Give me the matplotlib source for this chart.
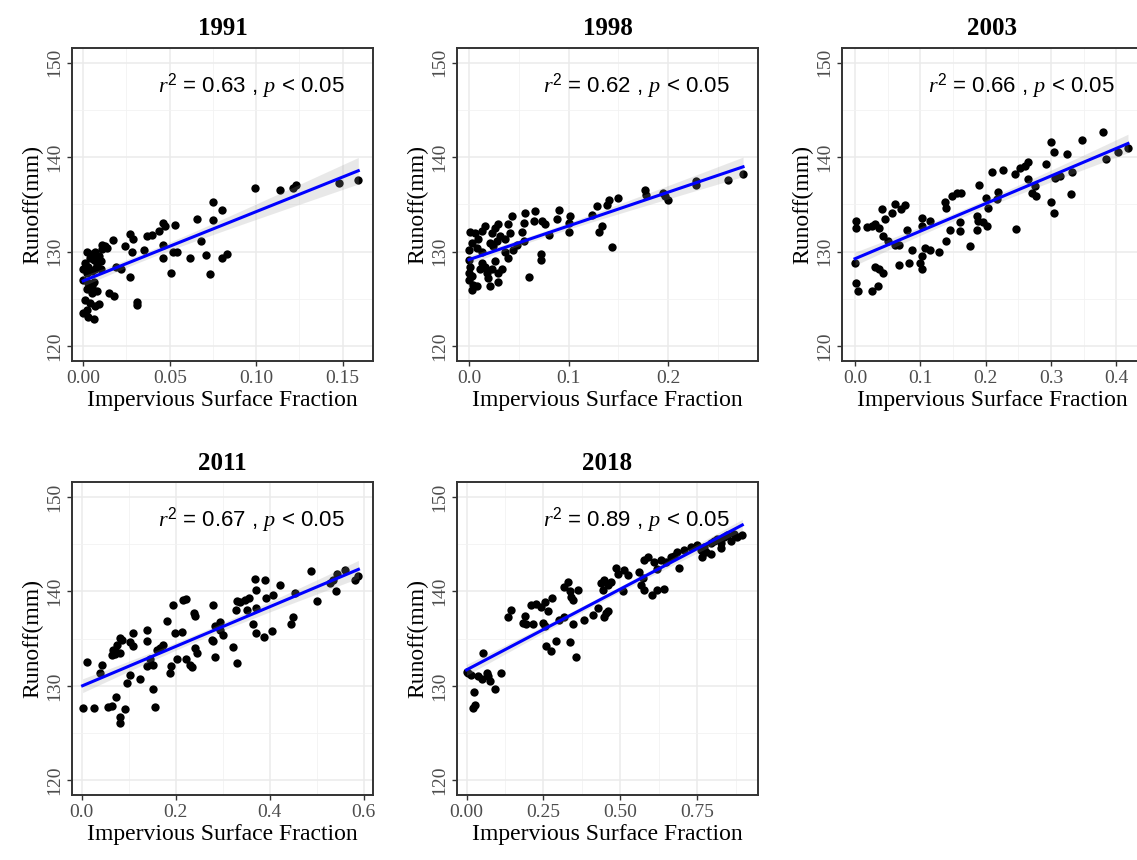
import numpy as np
import matplotlib
matplotlib.use("Agg")
import matplotlib.pyplot as plt
from matplotlib.ticker import FixedLocator

plt.rcParams['font.family'] = ['Liberation Serif', 'DejaVu Serif']
plt.rcParams['mathtext.fontset'] = 'custom'
plt.rcParams['mathtext.rm'] = 'Liberation Sans'
plt.rcParams['mathtext.it'] = 'Liberation Serif:italic'

# ---- data ----
years = ['1991', '1998', '2003', '2011', '2018']
r2_text = ['0.63', '0.62', '0.66', '0.67', '0.89']

x91 = [0.099, 0.114, 0.121, 0.123, 0.148, 0.159, 0.075, 0.080, 0.066, 0.075,
       0.046, 0.053, 0.047, 0.040, 0.044, 0.037, 0.027, 0.029, 0.017, 0.0125,
       0.011, 0.024, 0.028, 0.035, 0.046, 0.052, 0.054, 0.068, 0.062, 0.071,
       0.080, 0.083, 0.046, 0.051, 0.073, 0.027, 0.022, 0.019, 0.031, 0.031,
       0.015, 0.018, 0.002, 0.005, 0.007, 0.004, 0.006, 0.009, 0.001, 0.003,
       0.008, 0.010, 0.000, 0.002, 0.005, 0.007, 0.010, 0.000, 0.003, 0.006,
       0.002, 0.005, 0.008, 0.001, 0.004, 0.007, 0.000, 0.003, 0.006, 0.002,
       0.009, 0.005, 0.0135, 0.0106]
y91 = [136.7, 136.5, 136.7, 137.0, 137.3, 137.6, 135.2, 134.4, 133.5, 133.3,
       133.0, 132.8, 132.7, 131.7, 132.2, 131.6, 131.9, 131.3, 131.2, 130.6,
       130.3, 130.6, 130.0, 130.2, 130.7, 130.0, 130.0, 131.1, 129.3, 129.6,
       129.3, 129.7, 129.3, 127.7, 127.6, 127.3, 128.1, 128.4, 124.7, 124.3,
       125.6, 125.3, 129.9, 129.7, 129.9, 129.3, 129.1, 129.5, 128.8, 128.4,
       128.6, 129.0, 128.1, 127.7, 127.9, 128.1, 128.1, 127.0, 126.7, 126.8,
       126.0, 125.6, 125.8, 124.9, 124.5, 124.2, 123.5, 123.1, 122.9, 123.8,
       124.4, 126.3, 130.4, 130.7]

x98 = [0.275, 0.260, 0.228, 0.228, 0.200, 0.197, 0.195, 0.177, 0.178, 0.150,
       0.141, 0.138, 0.128, 0.123, 0.133, 0.130, 0.144, 0.101, 0.100, 0.100,
       0.090, 0.088, 0.076, 0.080, 0.073, 0.066, 0.065, 0.056, 0.055, 0.053,
       0.055, 0.072, 0.072, 0.060, 0.043, 0.039, 0.041, 0.036, 0.029, 0.026,
       0.023, 0.031, 0.028, 0.021, 0.024, 0.016, 0.013, 0.009, 0.006, 0.001,
       0.003, 0.008, 0.000, 0.013, 0.036, 0.039, 0.026, 0.033, 0.029, 0.023,
       0.029, 0.021, 0.000, 0.001, 0.000, 0.003, 0.000, 0.004, 0.003, 0.008,
       0.011, 0.013, 0.016, 0.018, 0.019, 0.044, 0.048]
y98 = [138.2, 137.6, 137.5, 137.0, 135.5, 135.9, 136.2, 136.5, 136.0, 135.7,
       135.5, 134.9, 134.8, 133.9, 132.7, 132.1, 130.5, 133.8, 133.0, 132.1,
       134.4, 133.4, 132.9, 131.8, 133.2, 134.3, 133.2, 134.1, 133.0, 132.1,
       131.1, 129.7, 129.1, 127.3, 133.8, 132.9, 132.0, 131.3, 132.9, 132.5,
       132.0, 131.6, 131.1, 130.9, 130.6, 132.7, 132.2, 131.3, 132.0, 132.1,
       130.9, 130.4, 130.2, 129.9, 129.9, 129.3, 129.0, 128.1, 127.7, 128.1,
       126.8, 126.3, 129.1, 128.4, 127.7, 127.4, 127.0, 126.5, 125.9, 126.3,
       128.1, 128.8, 128.4, 127.7, 127.2, 130.2, 130.7]

x03 = [0.380, 0.348, 0.300, 0.305, 0.324, 0.293, 0.306, 0.314, 0.332, 0.385,
       0.403, 0.418, 0.331, 0.300, 0.305, 0.265, 0.260, 0.253, 0.245, 0.265,
       0.276, 0.277, 0.271, 0.226, 0.210, 0.219, 0.217, 0.204, 0.200, 0.190,
       0.186, 0.189, 0.196, 0.202, 0.186, 0.247, 0.176, 0.163, 0.156, 0.148,
       0.138, 0.140, 0.161, 0.161, 0.145, 0.140, 0.115, 0.102, 0.102, 0.128,
       0.115, 0.107, 0.102, 0.099, 0.102, 0.087, 0.082, 0.067, 0.079, 0.067,
       0.077, 0.071, 0.061, 0.056, 0.041, 0.046, 0.036, 0.031, 0.026, 0.043,
       0.018, 0.001, 0.001, 0.051, 0.061, 0.000, 0.031, 0.036, 0.043, 0.001,
       0.005, 0.026, 0.035]
y03 = [142.7, 141.8, 141.6, 140.5, 140.3, 139.3, 137.8, 138.0, 138.4, 139.8,
       140.6, 141.0, 136.1, 135.2, 134.1, 139.5, 139.1, 138.8, 138.2, 137.7,
       136.9, 135.9, 136.2, 138.6, 138.4, 136.3, 135.6, 134.6, 135.7, 137.0,
       133.8, 133.2, 133.1, 132.7, 132.3, 132.4, 130.6, 136.2, 136.2, 135.9,
       135.2, 134.6, 133.1, 132.2, 132.3, 131.1, 133.2, 133.6, 132.7, 130.0,
       130.2, 130.4, 129.5, 128.8, 128.1, 130.2, 128.8, 128.6, 132.3, 130.7,
       134.9, 134.5, 135.0, 134.1, 134.5, 133.4, 132.5, 132.9, 132.7, 131.6,
       132.6, 133.2, 132.5, 131.1, 130.7, 128.8, 128.4, 128.1, 127.7, 126.7,
       125.8, 125.8, 126.3]

x11 = [0.489, 0.543, 0.560, 0.535, 0.528, 0.582, 0.589, 0.541, 0.500, 0.423,
       0.390, 0.369, 0.372, 0.392, 0.408, 0.454, 0.450, 0.445, 0.372, 0.365,
       0.371, 0.387, 0.404, 0.356, 0.348, 0.337, 0.330, 0.351, 0.328, 0.280,
       0.238, 0.241, 0.195, 0.216, 0.222, 0.181, 0.199, 0.213, 0.294, 0.294,
       0.301, 0.284, 0.277, 0.280, 0.284, 0.321, 0.331, 0.241, 0.245, 0.223,
       0.230, 0.234, 0.202, 0.191, 0.188, 0.174, 0.167, 0.160, 0.145, 0.138,
       0.152, 0.140, 0.140, 0.109, 0.103, 0.110, 0.082, 0.085, 0.076, 0.067,
       0.074, 0.064, 0.071, 0.082, 0.011, 0.043, 0.038, 0.124, 0.103, 0.096,
       0.152, 0.156, 0.002, 0.027, 0.057, 0.064, 0.074, 0.092, 0.082, 0.082]
y11 = [142.2, 141.9, 142.3, 141.2, 140.9, 141.2, 141.6, 140.0, 139.0, 140.7,
       141.2, 141.3, 140.2, 139.3, 139.6, 139.8, 137.3, 136.5, 138.2, 136.6,
       135.6, 135.2, 135.8, 139.3, 139.1, 138.9, 139.0, 138.0, 138.0, 138.6,
       137.7, 137.4, 138.6, 139.1, 139.2, 136.9, 135.6, 135.7, 136.8, 135.9,
       135.4, 136.3, 134.9, 134.7, 133.1, 134.1, 132.4, 134.0, 133.5, 132.8,
       132.2, 132.0, 132.8, 132.1, 131.4, 134.3, 134.0, 133.8, 132.8, 132.1,
       132.2, 135.9, 134.8, 135.6, 134.6, 134.2, 135.1, 134.9, 134.3, 133.8,
       133.6, 133.3, 133.4, 133.5, 132.5, 132.2, 131.4, 130.7, 131.2, 130.3,
       129.7, 127.8, 127.6, 127.6, 127.8, 127.9, 128.8, 127.5, 126.7, 126.1]

x18 = [0.005, 0.016, 0.000, 0.054, 0.038, 0.049, 0.065, 0.070, 0.076, 0.092,
       0.113, 0.025, 0.027, 0.022, 0.135, 0.146, 0.189, 0.194, 0.216, 0.183,
       0.210, 0.227, 0.243, 0.254, 0.278, 0.248, 0.264, 0.254, 0.259, 0.275,
       0.291, 0.302, 0.318, 0.329, 0.318, 0.335, 0.340, 0.361, 0.345, 0.335,
       0.356, 0.345, 0.383, 0.410, 0.426, 0.453, 0.448, 0.459, 0.437, 0.443,
       0.448, 0.459, 0.469, 0.486, 0.491, 0.513, 0.523, 0.507, 0.561, 0.572,
       0.567, 0.577, 0.604, 0.620, 0.642, 0.577, 0.588, 0.610, 0.620, 0.631,
       0.647, 0.664, 0.674, 0.685, 0.691, 0.707, 0.729, 0.750, 0.761, 0.772,
       0.777, 0.793, 0.804, 0.815, 0.826, 0.836, 0.847, 0.858, 0.869, 0.880,
       0.896, 0.766, 0.793, 0.826]
y18 = [131.4, 131.2, 131.5, 133.5, 131.0, 130.7, 131.4, 131.0, 130.5, 129.7,
       131.4, 129.3, 128.0, 127.6, 137.3, 138.0, 137.4, 136.6, 136.5, 136.7,
       138.6, 138.7, 138.4, 138.9, 139.3, 136.7, 137.9, 136.3, 134.2, 133.7,
       134.8, 137.0, 137.3, 141.0, 140.5, 140.0, 139.4, 140.2, 139.1, 134.6,
       133.1, 136.6, 137.0, 137.5, 138.2, 137.7, 137.3, 137.9, 140.9, 140.2,
       141.2, 140.7, 141.0, 142.5, 141.9, 142.3, 141.7, 140.0, 142.1, 141.4,
       140.7, 140.2, 139.6, 140.2, 140.3, 143.3, 143.6, 143.1, 142.4, 143.3,
       143.1, 143.6, 143.8, 144.2, 142.5, 144.4, 144.7, 144.9, 144.4, 144.7,
       144.2, 145.1, 145.4, 145.6, 145.1, 145.8, 146.0, 145.4, 146.1, 145.8,
       146.0, 143.7, 144.0, 144.6]

xs = [x91, x98, x03, x11, x18]
ys = [y91, y98, y03, y11, y18]

# x axis setup per panel
x_ticks = [[0, 0.05, 0.10, 0.15], [0, 0.1, 0.2], [0, 0.1, 0.2, 0.3, 0.4],
           [0, 0.2, 0.4, 0.6], [0, 0.25, 0.5, 0.75]]
x_ticklabels = [['0.00', '0.05', '0.10', '0.15'], ['0.0', '0.1', '0.2'],
                ['0.0', '0.1', '0.2', '0.3', '0.4'], ['0.0', '0.2', '0.4', '0.6'],
                ['0.00', '0.25', '0.50', '0.75']]
x_minor = [[0.025, 0.075, 0.125], [0.05, 0.15, 0.25], [0.05, 0.15, 0.25, 0.35],
           [0.1, 0.3, 0.5], [0.125, 0.375, 0.625, 0.875]]
x_lims = [(-0.0065, 0.1675), (-0.012, 0.29), (-0.02, 0.441), (-0.0206, 0.62), (-0.031, 0.947)]

y_ticks = [120, 130, 140, 150]
y_minor = [125, 135, 145]

# panel positions in pixels (left, top) on a 1137x860 canvas
W, H = 1137, 860
pos_px = [(72, 47.7), (457, 47.7), (842, 47.7), (72, 482), (457, 482)]
pw, ph = 301, 313.3

fig = plt.figure(figsize=(W / 100, H / 100), dpi=100)

for i in range(5):
    l, t = pos_px[i]
    ax = fig.add_axes([l / W, (H - t - ph) / H, pw / W, ph / H])
    x = np.array(xs[i])
    y = np.array(ys[i])

    ax.scatter(x, y, s=36, color='black', zorder=3, linewidths=0)

    # linear fit with confidence band
    b, a = np.polyfit(x, y, 1)
    xx = np.linspace(x.min(), x.max(), 100)
    yy = a + b * xx
    n = len(x)
    resid = y - (a + b * x)
    s = np.sqrt(np.sum(resid ** 2) / (n - 2))
    se = s * np.sqrt(1 / n + (xx - x.mean()) ** 2 / np.sum((x - x.mean()) ** 2))
    ax.fill_between(xx, yy - 1.5 * se, yy + 1.5 * se, color='#999999', alpha=0.22,
                    linewidth=0, zorder=4)
    ax.plot(xx, yy, color='#0000FF', linewidth=2.2, zorder=5)

    ax.set_xlim(*x_lims[i])
    ax.set_ylim(118.4, 151.6)
    ax.xaxis.set_major_locator(FixedLocator(x_ticks[i]))
    ax.set_xticklabels(x_ticklabels[i])
    ax.xaxis.set_minor_locator(FixedLocator(x_minor[i]))
    ax.yaxis.set_major_locator(FixedLocator(y_ticks))
    ax.set_yticklabels([str(v) for v in y_ticks], rotation=90, va='center')
    ax.yaxis.set_minor_locator(FixedLocator(y_minor))

    ax.grid(which='major', color='#EBEBEB', linewidth=1.1, zorder=0)
    ax.grid(which='minor', color='#F2F2F2', linewidth=0.6, zorder=0)
    ax.set_axisbelow(True)
    ax.tick_params(which='major', length=3.5, width=1, color='#333333',
                   labelcolor='#4D4D4D', labelsize=14, pad=3)
    ax.tick_params(which='minor', length=0)
    for sp in ax.spines.values():
        sp.set_color('#333333')
        sp.set_linewidth(1.4)

    ax.set_title(years[i], fontsize=18, fontweight='bold', pad=9)
    ax.set_xlabel('Impervious Surface Fraction', fontsize=17, labelpad=2)
    ax.set_ylabel('Runoff(mm)', fontsize=17, labelpad=2)
    ax.text(0.907, 0.877,
            r'$\mathit{r}^2$ = ' + r2_text[i] + r' , $\mathit{p}$ < 0.05',
            transform=ax.transAxes, ha='right', va='center', fontsize=16,
            family='Liberation Sans', zorder=6)

fig.savefig('out.png', dpi=100)
